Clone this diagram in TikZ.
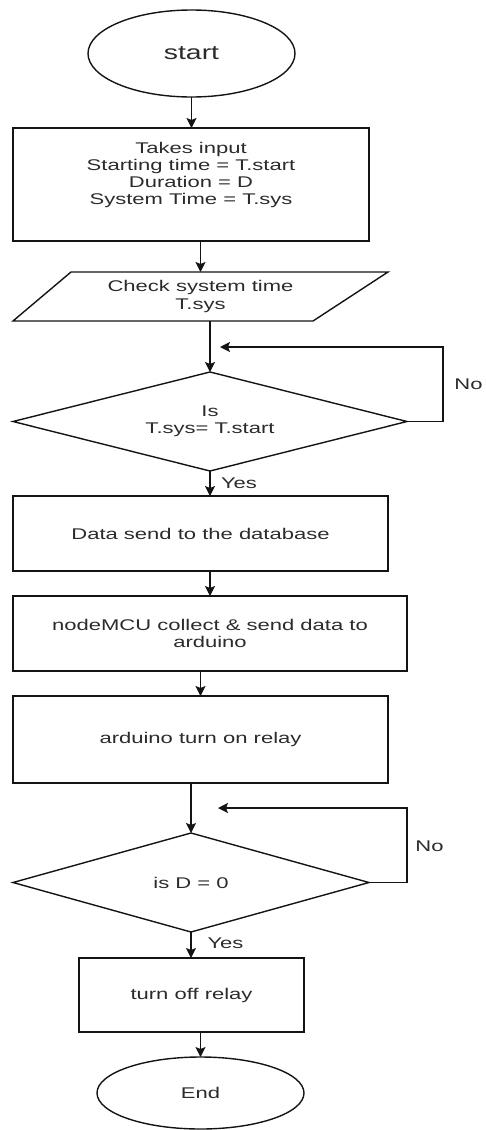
\documentclass[tikz,border=0pt]{standalone}
\usepackage{fontspec}
\setmainfont{Liberation Sans}
\usepackage{graphicx}
\usetikzlibrary{arrows.meta,shapes.geometric,calc}
\newcommand{\wx}[1]{\scalebox{1.42}[1]{#1}}
\definecolor{ln}{HTML}{141414}
\definecolor{tx}{HTML}{2B2B2B}
\tikzset{
  base/.style={draw=ln, line width=1.4pt, text=tx, font=\fontsize{15.5}{17.3}\selectfont, align=center, inner sep=0pt, outer sep=0pt},
  boxnode/.style={base, rectangle},
  term/.style={base, ellipse},
  dec/.style={base, diamond},
  plain/.style={text=tx, font=\fontsize{15.5}{17.3}\selectfont, align=center, inner sep=0pt, outer sep=0pt},
  arr/.style={draw=ln, line width=1.4pt, -{Stealth[length=10pt,width=10pt,inset=2pt]}},
  edge line/.style={draw=ln, line width=1.4pt, line join=miter}
}
\begin{document}
\begin{tikzpicture}[x=1pt,y=-1pt]
\useasboundingbox (0,0) rectangle (485,1130);

\node[term, minimum width=207, minimum height=87, font=\fontsize{20}{24}\selectfont] (start) at (191.5,53.5) {\wx{start}};

\node[boxnode, minimum width=356, minimum height=113] (input) at (191,184.5) {};
\node[plain] (inputtext) at (191,175) {\wx{Takes input}\\\wx{Starting time = T.start}\\\wx{Duration = D}\\\wx{System Time = T.sys}};

\node[plain, minimum width=375, minimum height=49] (check) at (200.5,296.5) {\wx{Check system time}\\\wx{T.sys}};
\draw[edge line] ([xshift=58pt]check.north west) -- (check.north east) -- ([xshift=-75pt]check.south east) -- (check.south west) -- cycle;

\node[dec, minimum width=394, minimum height=99, aspect=3.98] (d1) at (210,421.5) {\wx{Is}\\\wx{T.sys= T.start}};

\node[boxnode, minimum width=375, minimum height=75] (data) at (200.5,533.5) {\wx{Data send to the database}};
\node[boxnode, minimum width=394, minimum height=75] (mcu) at (210,633.5) {\wx{nodeMCU collect \& send data to}\\\wx{arduino}};
\node[boxnode, minimum width=375, minimum height=87] (ard) at (200.5,739.5) {\wx{arduino turn on relay}};

\node[dec, minimum width=356, minimum height=99, aspect=3.6] (d2) at (191,882.5) {\wx{is D = 0}};

\node[boxnode, minimum width=225, minimum height=74] (off) at (191.5,995) {\wx{turn off relay}};
\node[term, minimum width=207, minimum height=72] (endn) at (200.5,1093) {\wx{End}};

% connectors
\draw[arr] (start.south) -- (start.south |- input.north);
\draw[arr] (input.south -| check.north) -- (check.north);
\draw[arr] (check.south -| d1.north) -- (d1.north);
\draw[arr] (d1.south) -- (d1.south |- data.north);
\draw[arr] (data.south -| mcu.north) -- (mcu.north);
\draw[arr] (mcu.south -| ard.north) -- (ard.north);
\draw[arr] (ard.south -| d2.north) -- (d2.north);
\draw[arr] (d2.south) -- (d2.south |- off.north);
\draw[arr] (off.south -| endn.north) -- (endn.north);

\coordinate (l1) at (220,347);
\draw[arr] (d1.east) -- ++(36,0) |- (l1);
\coordinate (l2) at (218,808);
\draw[arr] (d2.east) -- ++(38,0) |- (l2);

\node[plain] (no1) at (468.5,384) {\wx{No}};
\node[plain] (yes1) at (239,483) {\wx{Yes}};
\node[plain] (no2) at (429.5,846) {\wx{No}};
\node[plain] (yes2) at (225.5,943) {\wx{Yes}};
\end{tikzpicture}
\end{document}
